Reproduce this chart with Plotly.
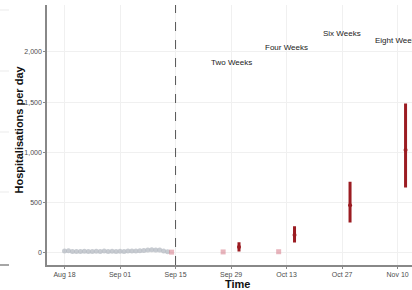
import plotly.graph_objects as go
import pandas as pd

# Observed daily hospitalisations (grey)
obs_dates = pd.date_range("2020-08-18", "2020-09-13", freq="D")
obs_values = [18, 22, 15, 14, 14, 16, 13, 15, 17, 14, 18, 15, 16, 14, 17, 15,
              18, 20, 18, 22, 25, 30, 32, 30, 28, 20, 12]

# Pink points (observed at forecast time)
pink_dates = ["2020-09-14", "2020-09-27", "2020-10-11"]
pink_values = [8, 10, 12]

# Forecasts with intervals
fc_dates = ["2020-10-01", "2020-10-15", "2020-10-29", "2020-11-12"]
fc_mid = [60, 179, 474, 1024]
fc_low = [30, 119, 318, 666]
fc_high = [92, 251, 693, 1471]

# Horizon labels
lab_dates = ["2020-09-29", "2020-10-13", "2020-10-27", "2020-11-10"]
lab_y = [1891, 2040, 2184, 2110]
lab_text = ["Two Weeks", "Four Weeks", "Six Weeks", "Eight Weeks"]

tick_dates = ["2020-08-18", "2020-09-01", "2020-09-15", "2020-09-29",
              "2020-10-13", "2020-10-27", "2020-11-10"]
tick_text = ["Aug 18", "Sep 01", "Sep 15", "Sep 29", "Oct 13", "Oct 27", "Nov 10"]
y_ticks = [0, 500, 1000, 1500, 2000]

FONT = "Liberation Sans, Arial"

fig = go.Figure()
fig.add_trace(go.Scatter(x=obs_dates, y=obs_values, mode="markers",
                         marker=dict(color="rgba(180,186,194,0.75)", size=5),
                         showlegend=False, cliponaxis=False))
fig.add_trace(go.Scatter(x=pink_dates, y=pink_values, mode="markers",
                         marker=dict(color="rgba(214,120,135,0.55)", size=5, symbol="square"),
                         showlegend=False))
err_plus = [h - m for h, m in zip(fc_high, fc_mid)]
err_minus = [m - l for m, l in zip(fc_mid, fc_low)]
fig.add_trace(go.Scatter(x=fc_dates, y=fc_mid, mode="markers",
                         marker=dict(color="#9b1c22", size=4),
                         error_y=dict(type="data", array=err_plus, arrayminus=err_minus,
                                      color="#9b1c22", thickness=3, width=1.5),
                         showlegend=False, cliponaxis=False))

for d, y, t in zip(lab_dates, lab_y, lab_text):
    fig.add_annotation(x=d, y=y, text=t, showarrow=False,
                       font=dict(family=FONT, size=8, color="#222"),
                       xanchor="center", yanchor="middle")

fig.add_shape(type="line", x0="2020-09-15", x1="2020-09-15", y0=0, y1=1,
              yref="paper", line=dict(color="#555", width=1, dash="dash"))

# remnants of neighbouring panel at left edge
W = 365.0
H = 260.0
def px(x):
    return (x - 47) / W
def py(y):
    return (265 - y) / H
for yy in [10, 71, 132, 192]:
    fig.add_shape(type="line", xref="paper", yref="paper", x0=px(0), x1=px(9),
                  y0=py(yy), y1=py(yy), line=dict(color="#ebebeb", width=1))
fig.add_shape(type="line", xref="paper", yref="paper", x0=px(0), x1=px(9),
              y0=py(265), y1=py(265), line=dict(color="#888", width=1.5))

fig.add_annotation(xref="paper", yref="paper", x=px(18.5), y=py(130),
                   xanchor="center", yanchor="middle",
                   text="<b>Hospitalisations per day</b>", textangle=-90, showarrow=False,
                   font=dict(family=FONT, size=11, color="#111"))
fig.add_annotation(xref="paper", yref="paper", x=px(238), y=py(283.5),
                   xanchor="center", yanchor="middle",
                   text="<b>Time</b>", showarrow=False,
                   font=dict(family=FONT, size=11, color="#111"))

fig.update_xaxes(range=["2020-08-13 14:00", "2020-11-13 15:00"],
                 tickvals=tick_dates, ticktext=tick_text, automargin=False,
                 showgrid=True, gridcolor="#f0f0f0", gridwidth=1,
                 showline=True, linecolor="#888", linewidth=1.5,
                 ticks="outside", ticklen=2, tickcolor="#888",
                 tickfont=dict(family=FONT, size=7, color="#4d4d4d"),
                 zeroline=False)
fig.update_yaxes(range=[-120, 2465], tickvals=y_ticks, tickformat=",", automargin=False,
                 showgrid=True, gridcolor="#f0f0f0", gridwidth=1,
                 showline=True, linecolor="#888", linewidth=1.5,
                 ticks="outside", ticklen=2, tickcolor="#888",
                 tickfont=dict(family=FONT, size=7, color="#4d4d4d"),
                 zeroline=False)

fig.update_layout(width=412, height=290, margin=dict(l=47, r=0, t=5, b=25),
                  plot_bgcolor="white", paper_bgcolor="white", showlegend=False)

fig.write_html("out.html", config={"displayModeBar": False},
               post_script="document.body.style.margin='0';document.body.style.padding='0';"
                           "document.body.style.overflow='hidden';")
